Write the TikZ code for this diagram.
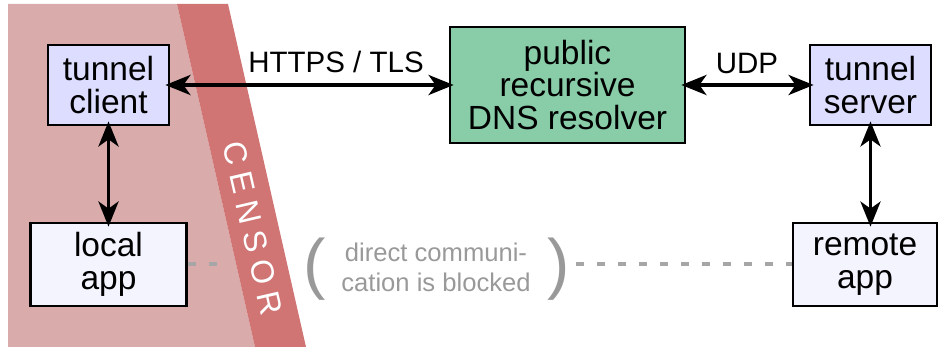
\documentclass[tikz,border=0pt]{standalone}
\usepackage{fontspec}
\setmainfont{Liberation Sans}
\usetikzlibrary{arrows.meta}
\definecolor{pinkbg}{HTML}{D9ABAB}
\definecolor{censorred}{HTML}{D07474}
\definecolor{tunnelblue}{HTML}{DDDDFF}
\definecolor{appblue}{HTML}{F4F4FF}
\definecolor{dnsgreen}{HTML}{88CCA8}
\definecolor{grayline}{HTML}{A6A6A6}
\definecolor{graytext}{HTML}{999999}
\tikzset{
  box/.style={draw=black, line width=2.8pt, align=center, inner sep=0pt,
    font=\fontsize{33.5pt}{32.5pt}\selectfont},
  tunnelbox/.style={box, fill=tunnelblue, minimum width=121pt, minimum height=80pt},
  appbox/.style={box, fill=appblue, minimum height=83pt},
  dnsbox/.style={box, fill=dnsgreen, minimum width=235pt, minimum height=116pt},
  biarrow/.style={line width=3.8pt, {Stealth[length=25pt,width=20pt,inset=7pt]}-{Stealth[length=25pt,width=20pt,inset=7pt]},
    shorten <=-5pt, shorten >=-5pt},
  blockdash/.style={grayline, line width=4pt, dash pattern=on 8pt off 13pt},
  lbl/.style={font=\fontsize{29.5pt}{32pt}\selectfont, inner sep=0pt},
  graytxt/.style={text=graytext, inner sep=0pt, align=center,
    font=\fontsize{25.6pt}{30pt}\selectfont},
  paren/.style={text=graytext, inner sep=0pt, font=\fontsize{67pt}{70pt}\selectfont},
}
\begin{document}
\begin{tikzpicture}[x=1pt,y=-1pt]
\useasboundingbox (0,0) rectangle (939,347);
% inside-censor region
\fill[pinkbg] (8,4) -- (177,4) -- (255,347) -- (8,347) -- cycle;

% boxes
\node[tunnelbox] (client) at (108.5,85) {tunnel\\client};
\node[appbox, minimum width=156pt] (local) at (108.5,264.5) {local\\app};
\node[dnsbox] (dns) at (567.5,85) {public\\recursive\\DNS resolver};
\node[tunnelbox] (server) at (870.5,85) {tunnel\\server};
\node[appbox, minimum width=144pt] (remote) at (865,264.5) {remote\\app};

% blocked direct path
\coordinate (lend) at (222,264.5);
\coordinate (rstart) at (576,264.5);
\draw[blockdash] (local.east) -- (lend);
\draw[blockdash] (rstart) -- (remote.west);

% censor band
\fill[censorred] (177,4) -- (228,4) -- (306,347) -- (255,347) -- cycle;
\node[text=white, rotate=-77, inner sep=0pt, font=\fontsize{32pt}{32pt}\selectfont] (censor) at (253,228)
  {C\kern8pt E\kern8pt N\kern8pt S\kern8pt O\kern8pt R};

% connectors
\draw[biarrow] (client.east) -- (dns.west);
\draw[biarrow] (dns.east) -- (server.west);
\draw[biarrow] (client.south) -- (client.south |- local.north);
\draw[biarrow] (server.south) -- (server.south |- remote.north);

% labels
\node[lbl, anchor=base] (https) at (336,73) {HTTPS / TLS};
\node[lbl, anchor=base] (udp) at (747,74) {UDP};

% blocked note
\node[paren, anchor=base] (lparen) at (315,286) {(};
\node[graytxt] (blocked) at (436,267) {direct communi-\\cation is blocked};
\node[paren, anchor=base] (rparen) at (558.4,286) {)};
\end{tikzpicture}
\end{document}
